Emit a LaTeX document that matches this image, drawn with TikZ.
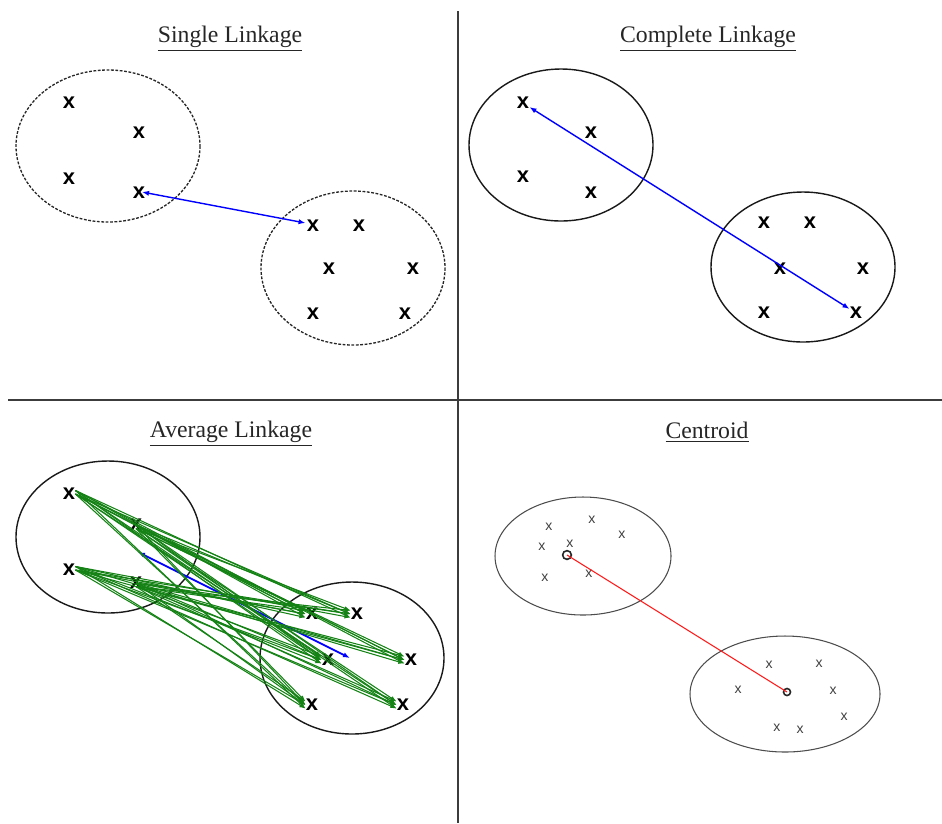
\documentclass[tikz,border=0pt]{standalone}
\usepackage{fontspec}
\setmainfont{Liberation Serif}
\setsansfont{Liberation Sans}
\usetikzlibrary{arrows.meta}
\definecolor{divider}{RGB}{60,60,60}
\definecolor{lgreen}{RGB}{20,130,20}
\begin{document}
\begin{tikzpicture}[x=0.02cm,y=-0.02cm,
  title/.style={font=\fontsize{13.5}{14}\selectfont, text=black!85},
  xm/.style={inner sep=0pt, font=\sffamily\bfseries\fontsize{12.5}{12}\selectfont},
  sx/.style={inner sep=0pt, font=\sffamily\fontsize{8}{8}\selectfont, text=black!75},
  dashell/.style={draw=black!85, dash pattern=on 1.6pt off 0.9pt, line width=0.75pt},
  solell/.style={draw=black!90, line width=0.8pt},
  centell/.style={draw=black!70, line width=0.6pt},
  blink/.style={draw=blue, line width=0.8pt, {Latex[length=4pt,width=3pt]}-{Latex[length=4pt,width=3pt]}},
  glink/.style={draw=lgreen, line width=0.6pt, -{Latex[length=3.5pt,width=2.5pt]}},
  cmark/.style={circle, draw=black!85, line width=0.9pt, minimum size=5pt, inner sep=0pt},
  divline/.style={draw=divider, line width=1.1pt}]
\useasboundingbox (0,0) rectangle (942,823);
% dividers
\draw[divline] (458,11) -- (458,823);
\draw[divline] (8,400) -- (942,400);

% ---------- Single Linkage ----------
\node[title] (t1) at (230,39) {\underline{Single Linkage}};
\draw[dashell] (108,146) ellipse [x radius=92, y radius=76];
\draw[dashell] (353,268) ellipse [x radius=92, y radius=77];
\node[xm] (sa1) at (69,103) {x};
\node[xm] (sa2) at (139,133) {x};
\node[xm] (sa3) at (69,179) {x};
\node[xm] (sa4) at (139,193) {x};
\node[xm] (sb1) at (313,226) {x};
\node[xm] (sb2) at (359,226) {x};
\node[xm] (sb3) at (329,269) {x};
\node[xm] (sb4) at (413,269) {x};
\node[xm] (sb5) at (313,314) {x};
\node[xm] (sb6) at (405,314) {x};
\path (sa4.center) ++(3,-1) coordinate (sl1) (sb1.west) ++(-1,-3) coordinate (sl2);
\draw[blink] (sl1) -- (sl2);

% ---------- Complete Linkage ----------
\node[title] (t2) at (708,39) {\underline{Complete Linkage}};
\draw[solell] (561,145) ellipse [x radius=92, y radius=76];
\draw[solell] (803,267) ellipse [x radius=92, y radius=75];
\node[xm] (ca1) at (523,103) {x};
\node[xm] (ca2) at (591,133) {x};
\node[xm] (ca3) at (523,177) {x};
\node[xm] (ca4) at (591,193) {x};
\node[xm] (cb1) at (764,223) {x};
\node[xm] (cb2) at (810,223) {x};
\node[xm] (cb3) at (780,269) {x};
\node[xm] (cb4) at (863,269) {x};
\node[xm] (cb5) at (764,313) {x};
\node[xm] (cb6) at (856,313) {x};
\draw[blink] (ca1) -- (cb6);

% ---------- Average Linkage ----------
\node[title] (t3) at (231,434) {\underline{Average Linkage}};
\draw[solell] (108,537) ellipse [x radius=92, y radius=76];
\draw[solell] (352,658) ellipse [x radius=92, y radius=76];
\node[xm] (aa1) at (69,494) {x};
\node[xm] (aa2) at (136,525) {x};
\node[xm] (aa3) at (69,570) {x};
\node[xm] (aa4) at (136,583) {x};
\node[xm] (ab1) at (312,614) {x};
\node[xm] (ab2) at (357,614) {x};
\node[xm] (ab3) at (328,660) {x};
\node[xm] (ab4) at (411,660) {x};
\node[xm] (ab5) at (312,705) {x};
\node[xm] (ab6) at (403,705) {x};
\coordinate (ablA) at (138,552);
\coordinate (ablB) at (350,658);
\draw[blink, line width=1pt] (ablA) -- (ablB);
\foreach \s in {aa1,aa3} {
  \foreach \t in {ab1,ab2,ab3,ab4,ab5,ab6} {
    \draw[glink] (\s.east) -- (\t.west);
    \draw[glink] ([yshift=2]\s.east) -- ([yshift=-2]\t.west);
  }
}
\foreach \s in {aa2,aa4} {
  \foreach \t in {ab1,ab2,ab3,ab4,ab5,ab6} {
    \draw[glink] (\s.center) -- (\t.west);
    \draw[glink] ([yshift=-2]\s.center) -- ([yshift=2]\t.west);
  }
}

% ---------- Centroid ----------
\node[title] (t4) at (707,432) {\underline{Centroid}};
\draw[centell] (583,556) ellipse [x radius=88, y radius=59];
\draw[centell] (785,694) ellipse [x radius=95, y radius=58];
\node[sx] (pa1) at (549,527) {x};
\node[sx] (pa2) at (592,520) {x};
\node[sx] (pa3) at (622,535) {x};
\node[sx] (pa4) at (542,547) {x};
\node[sx] (pa5) at (570,544) {x};
\node[sx] (pa6) at (545,578) {x};
\node[sx] (pa7) at (589,574) {x};
\node[sx] (pb1) at (769,665) {x};
\node[sx] (pb2) at (819,664) {x};
\node[sx] (pb3) at (738,690) {x};
\node[sx] (pb4) at (833,691) {x};
\node[sx] (pb5) at (844,717) {x};
\node[sx] (pb6) at (777,728) {x};
\node[sx] (pb7) at (800,730) {x};
\node[cmark] (ca) at (567,555) {};
\node[cmark, minimum size=4pt] (cb) at (787,692) {};
\draw[red!90, line width=0.6pt] (ca.center) -- (cb.center);
\end{tikzpicture}
\end{document}
